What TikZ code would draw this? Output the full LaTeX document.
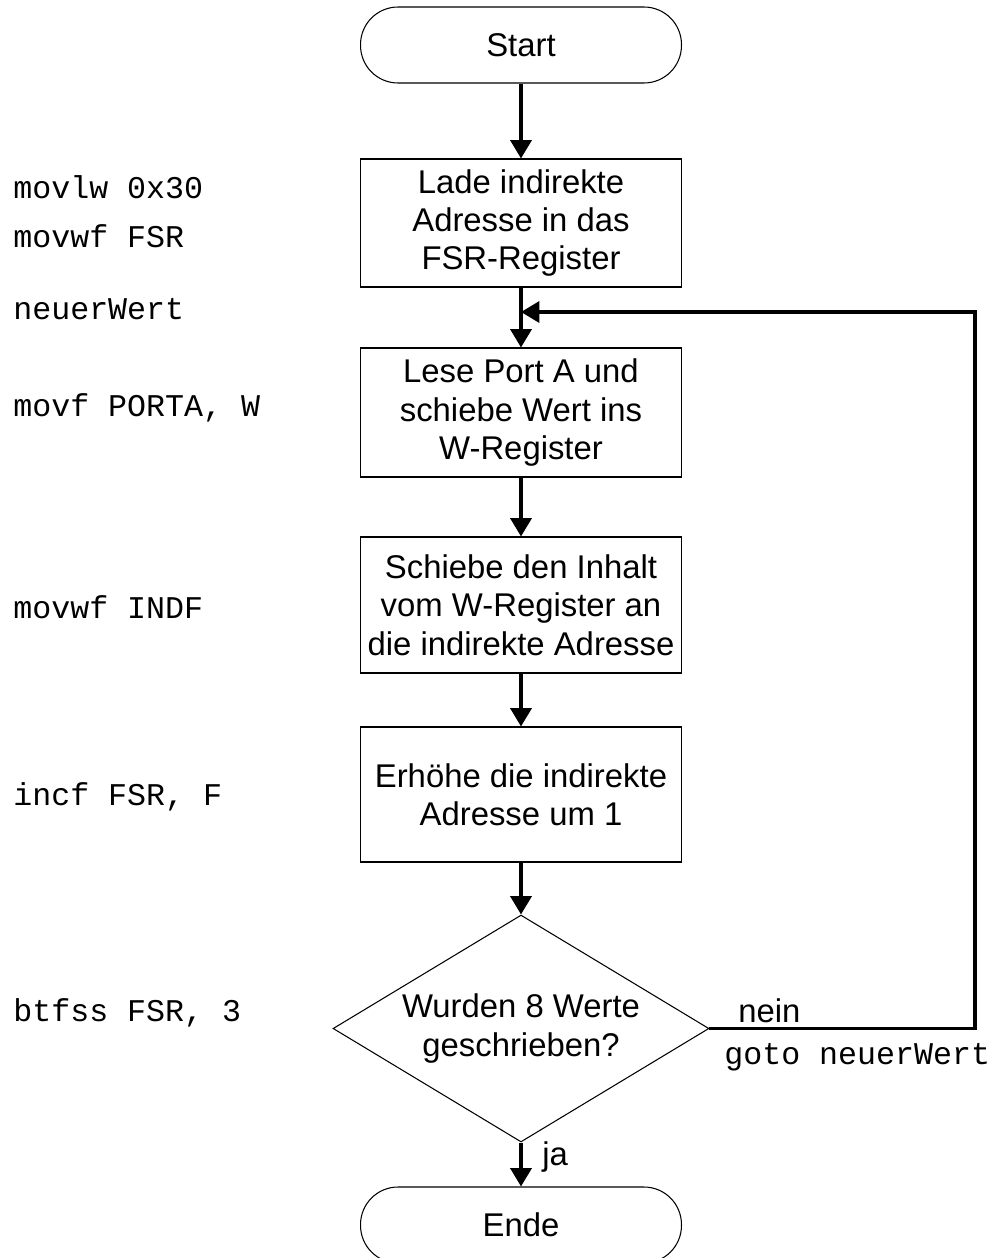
\documentclass[tikz,border=0pt]{standalone}
\usepackage{fontspec}
\setmainfont{Liberation Sans}
\setmonofont{Liberation Mono}
\usetikzlibrary{shapes.geometric,arrows.meta}
\begin{document}
\begin{tikzpicture}[x=0.02cm, y=-0.02cm]
        \tikzstyle{every node} = [align=center, font=\fontsize{18.7}{21.8}\selectfont]
        \tikzstyle{term} = [draw, line width=0.6pt, rectangle, rounded corners=0.75cm, minimum width=6.42cm, minimum height=1.52cm]
        \tikzstyle{proc} = [draw, line width=0.6pt, rectangle, minimum width=6.42cm]
        \tikzstyle{dec} = [draw, line width=0.6pt, diamond, inner sep=0pt, shape aspect=1.66, minimum width=7.52cm, minimum height=4.54cm]
        \tikzstyle{code} = [anchor=base west, inner sep=0pt, font=\ttfamily\fontsize{18}{22}\selectfont]
        \tikzstyle{lbl} = [anchor=base west, inner sep=0pt]
        \tikzstyle{arr} = [line width=2pt, -{Triangle[width=12pt,length=10.5pt]}]
        \useasboundingbox (0,0) rectangle (993,1258);

        % flowchart
        \node[term] (start) at (521,45) {Start};
        \node[proc, minimum height=2.56cm] (lade) at (521,223) {Lade indirekte\\Adresse in das\\FSR-Register};
        \node[proc, minimum height=2.58cm] (lese) at (521,412.5) {Lese Port A und\\schiebe Wert ins\\W-Register};
        \node[proc, minimum height=2.72cm] (schiebe) at (521,605) {Schiebe den Inhalt\\vom W-Register an\\die indirekte Adresse};
        \node[proc, minimum height=2.70cm] (erhoehe) at (521,794.5) {Erhöhe die indirekte\\Adresse um 1};
        \node[dec] (frage) at (521,1028.5) {Wurden 8 Werte\\geschrieben?};
        \node[term] (ende) at (521,1225) {Ende};

        \coordinate (merge) at (521,312);
        \coordinate (loop) at (975,312);

        \draw[arr] (start) -- (lade);
        \draw[arr] (lade) -- (lese);
        \draw[arr] (lese) -- (schiebe);
        \draw[arr] (schiebe) -- (erhoehe);
        \draw[arr] (erhoehe) -- (frage);
        \draw[arr] (frage) -- (ende);
        \draw[arr] (frage.east) -| (loop) -- (merge);

        \node[lbl] (nein) at (738,1022) {nein};
        \node[lbl] (ja) at (542,1165) {ja};

        % assembler code
        \node[code] (c1) at (13,198) {movlw 0x30};
        \node[code] (c2) at (13,247) {movwf FSR};
        \node[code] (c3) at (13,319) {neuerWert};
        \node[code] (c4) at (13,416) {movf PORTA, W};
        \node[code] (c5) at (13,618) {movwf INDF};
        \node[code] (c6) at (13,805) {incf FSR, F};
        \node[code] (c7) at (13,1021) {btfss FSR, 3};
        \node[code] (c8) at (724,1064) {goto neuerWert};
    \end{tikzpicture}
\end{document}
